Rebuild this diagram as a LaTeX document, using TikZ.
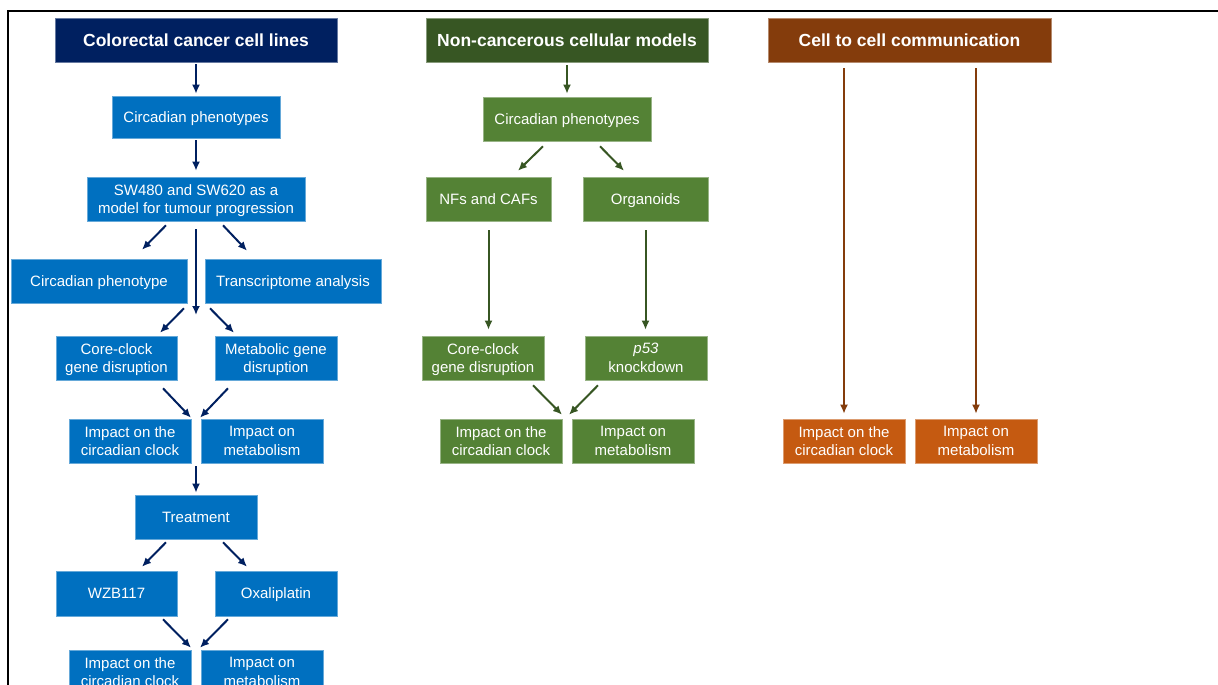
\documentclass[tikz,border=0pt]{standalone}
\usepackage{fontspec}
\setmainfont{Liberation Sans}
\usetikzlibrary{arrows.meta,calc}
\definecolor{navy}{HTML}{002060}
\definecolor{bluebox}{HTML}{0070C0}
\definecolor{dgreen}{HTML}{375623}
\definecolor{greenbox}{HTML}{548235}
\definecolor{dbrown}{HTML}{843C0C}
\definecolor{orangebox}{HTML}{C55A11}
\tikzset{
  basebox/.style={rectangle, inner sep=0pt, align=center, text=white, line width=0.6pt,
    font=\fontsize{15}{18.5}\selectfont, minimum height=44pt, text depth=-7pt},
  titlebox/.style={basebox, font=\bfseries\fontsize{17.5}{20}\selectfont, minimum width=282pt, text depth=-3pt},
  bbox/.style={basebox, fill=bluebox, draw=bluebox!60!white},
  gbox/.style={basebox, fill=greenbox, draw=greenbox!60!white},
  obox/.style={basebox, fill=orangebox, draw=orangebox!60!white},
  arr/.style={line width=2pt, -{Latex[length=9pt,width=8pt]}},
  barr/.style={arr, draw=navy, fill=navy},
  garr/.style={arr, draw=dgreen, fill=dgreen},
  oarr/.style={arr, draw=dbrown, fill=dbrown},
}
\begin{document}
\begin{tikzpicture}[x=1pt,y=-1pt]
\useasboundingbox (0,0) rectangle (1218,685);
\clip (0,0) rectangle (1218,685);
\fill[white] (0,0) rectangle (1218,685);
\draw[line width=2.2pt] (8,11) rectangle (1300,760);

% Column 1
\node[titlebox, fill=navy, draw=navy!60!white] (t1) at (196,40) {Colorectal cancer cell lines};
\node[bbox, minimum width=168pt, minimum height=42pt] (cp1) at (196,117) {Circadian phenotypes};
\node[bbox, minimum width=218pt] (sw) at (196,199) {SW480 and SW620 as a\\model for tumour progression};
\node[bbox, minimum width=176pt] (cph) at (99,281) {Circadian phenotype};
\node[bbox, minimum width=176pt] (tr) at (293,281) {Transcriptome analysis};
\node[bbox, minimum width=121pt] (cc1) at (116.5,358) {Core-clock\\gene disruption};
\node[bbox, minimum width=122pt] (mg) at (276,358) {Metabolic gene\\disruption};
\node[bbox, minimum width=122pt] (ic1) at (130,441) {Impact on the\\circadian clock};
\node[bbox, minimum width=122pt] (im1) at (262,441) {Impact on\\metabolism};
\node[bbox, minimum width=122pt] (treat) at (196,517) {Treatment};
\node[bbox, minimum width=121pt, minimum height=45pt] (wzb) at (116.5,593.5) {WZB117};
\node[bbox, minimum width=122pt, minimum height=45pt] (oxa) at (276,593.5) {Oxaliplatin};
\node[bbox, minimum width=122pt] (ic2) at (130,672) {Impact on the\\circadian clock};
\node[bbox, minimum width=122pt] (im2) at (262,672) {Impact on\\metabolism};
\coordinate (mid1) at (196,315);
\coordinate (mid2) at (196,466);

\draw[barr] ($(t1.south)+(0,2)$) -- ($(cp1.north)+(0,-2)$);
\draw[barr] ($(cp1.south)+(0,2)$) -- ($(sw.north)+(0,-6)$);
\draw[barr] ($(sw.south)+(-30,4)$) -- ($(cph.north)+(43,-9)$);
\draw[barr] ($(sw.south)+(27,4)$) -- ($(tr.north)+(-46,-8)$);
\draw[barr] ($(sw.south)+(0,8)$) -- (mid1);
\draw[barr] ($(cph.south)+(85,5)$) -- ($(cc1.north)+(43.5,-3)$);
\draw[barr] ($(tr.south)+(-83,5)$) -- ($(mg.north)+(-42,-3)$);
\draw[barr] ($(cc1.south)+(46.5,8)$) -- ($(ic1.north)+(61,-1)$);
\draw[barr] ($(mg.south)+(-48,8)$) -- ($(im1.north)+(-62,-1)$);
\draw[barr] (mid2) -- ($(treat.north)+(0,-2)$);
\draw[barr] ($(treat.south)+(-30,3)$) -- ($(wzb.north)+(25.5,-4)$);
\draw[barr] ($(treat.south)+(27,3)$) -- ($(oxa.north)+(-29,-4)$);
\draw[barr] ($(wzb.south)+(46.5,3)$) -- ($(ic2.north)+(61,-2)$);
\draw[barr] ($(oxa.south)+(-48,3)$) -- ($(im2.north)+(-62,-2)$);

% Column 2
\node[titlebox, fill=dgreen, draw=dgreen!60!white] (t2) at (567,40) {Non-cancerous cellular models};
\node[gbox, minimum width=168pt] (cp2) at (567,119) {Circadian phenotypes};
\node[gbox, minimum width=125pt] (nf) at (488.5,199) {NFs and CAFs};
\node[gbox, minimum width=125pt] (org) at (645.5,199) {Organoids};
\node[gbox, minimum width=122pt] (cc2) at (483,358) {Core-clock\\gene disruption};
\node[gbox, minimum width=122pt] (p53) at (646,358) {\textit{p53}\\knockdown};
\node[gbox, minimum width=122pt] (ic3) at (501,441) {Impact on the\\circadian clock};
\node[gbox, minimum width=122pt] (im3) at (633,441) {Impact on\\metabolism};

\draw[garr] ($(t2.south)+(0,3)$) -- ($(cp2.north)+(0,-3)$);
\draw[garr] ($(cp2.south)+(-24,5)$) -- ($(nf.north)+(29.5,-6)$);
\draw[garr] ($(cp2.south)+(33,5)$) -- ($(org.north)+(-21.5,-6)$);
\draw[garr] ($(nf.south)+(0,9)$) -- ($(nf.south |- cc2.north)+(0,-6)$);
\draw[garr] ($(org.south)+(0,9)$) -- ($(org.south |- p53.north)+(0,-6)$);
\draw[garr] ($(cc2.south)+(50,5)$) -- ($(ic3.north)+(61,-4)$);
\draw[garr] ($(p53.south)+(-48,5)$) -- ($(im3.north)+(-64,-4)$);

% Column 3
\node[titlebox, fill=dbrown, draw=dbrown!60!white, minimum width=283pt] (t3) at (909.5,40) {Cell to cell communication};
\node[obox, minimum width=122pt] (ic4) at (844,441) {Impact on the\\circadian clock};
\node[obox, minimum width=122pt] (im4) at (976,441) {Impact on\\metabolism};

\draw[oarr] ($(t3.south -| ic4.north)+(0,6)$) -- ($(ic4.north)+(0,-5)$);
\draw[oarr] ($(t3.south -| im4.north)+(0,6)$) -- ($(im4.north)+(0,-5)$);
\end{tikzpicture}
\end{document}
